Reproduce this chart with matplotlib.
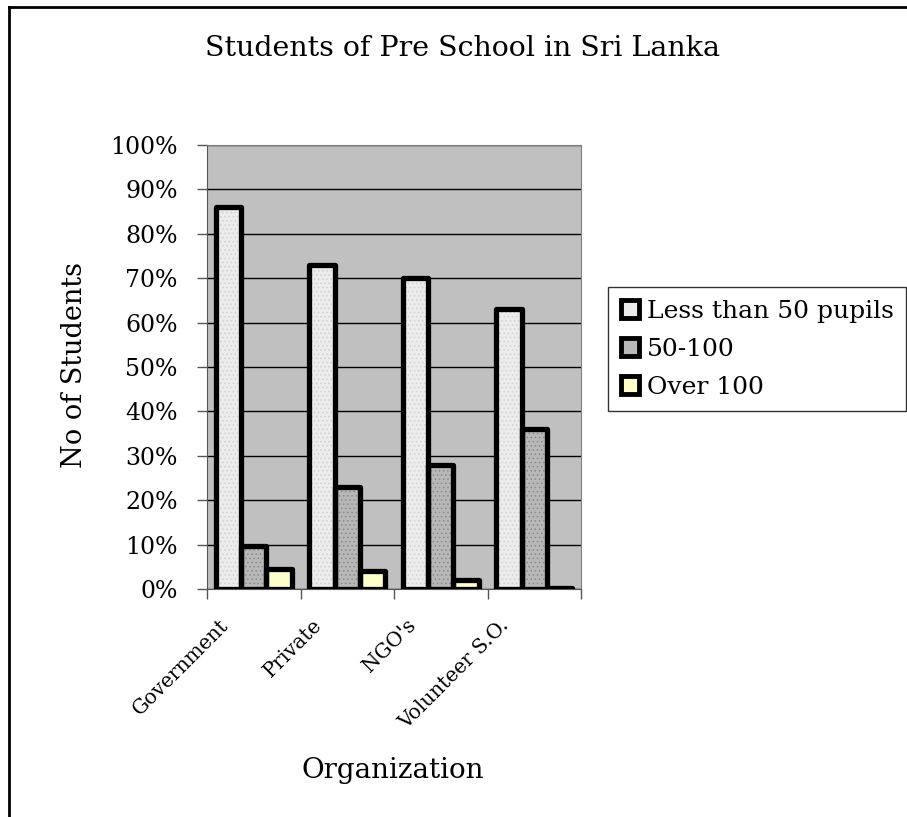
import numpy as np
import matplotlib
matplotlib.use("Agg")
import matplotlib.pyplot as plt
import matplotlib.transforms as mtransforms
from matplotlib.patches import Patch
from matplotlib.lines import Line2D

plt.rcParams['font.family'] = ['DejaVu Serif']
plt.rcParams['hatch.linewidth'] = 0.6

organizations = ["Government", "Private", "NGO's", "Volunteer S.O."]
series_names = ["Less than 50 pupils", "50-100", "Over 100"]
less_than_50 = [86, 73, 70, 63]
from_50_to_100 = [9.6, 23, 28, 36]
over_100 = [4.5, 4, 2, 0.3]
y_ticks = [0, 10, 20, 30, 40, 50, 60, 70, 80, 90, 100]

faces = ["#ececec", "#b8b8b8", "#ffffcc"]
hatches = ["....", "....", None]
hatch_cols = ["#d0d0d0", "#8a8a8a", "#ffffcc"]

fig = plt.figure(figsize=(9.07, 8.17), dpi=100)
ax = fig.add_axes([207/907, 1-589/817, 374/907, 444/817])
ax.set_facecolor("#c0c0c0")

x = np.arange(len(organizations))
w = 0.27
for i, vals in enumerate([less_than_50, from_50_to_100, over_100]):
    pos = x + (i-1)*w
    ax.bar(pos, vals, w, color=faces[i], hatch=hatches[i],
           edgecolor=hatch_cols[i], linewidth=0, zorder=3)
    ax.bar(pos, vals, w, fill=False, edgecolor="black", linewidth=3.8,
           joinstyle="round", zorder=4)

ax.set_ylim(0, 100)
ax.set_xlim(-0.5, 3.5)
ax.set_yticks(y_ticks)
ax.set_yticklabels([f"{v}%" for v in y_ticks], fontsize=17)
ax.yaxis.grid(True, color="black", linewidth=1)
ax.set_axisbelow(True)
ax.tick_params(axis="y", length=7.2, width=1, color="#555555", pad=14)

ax.set_xticks(np.arange(-0.5, 4, 1))
ax.set_xticklabels([])
ax.tick_params(axis="x", which="major", length=7, width=1, color="#555555")
ax.set_xticks(x, minor=True)
ax.set_xticklabels(organizations, minor=True, rotation=45, ha="right",
                   va="top", rotation_mode="anchor", fontsize=14.5)
ax.tick_params(axis="x", which="minor", length=0, pad=19)
offset = mtransforms.ScaledTranslation(-0.35, 0, fig.dpi_scale_trans)
for lab in ax.get_xticklabels(minor=True):
    lab.set_transform(lab.get_transform() + offset)

for s in ["top", "right"]:
    ax.spines[s].set_color("#808080")
ax.spines["left"].set_color("#555555")
ax.spines["bottom"].set_color("#555555")

fig.text(462/907, 1-48/817, "Students of Pre School in Sri Lanka",
         ha="center", va="center", fontsize=20.5)
fig.text(75/907, 1-365/817, "No of Students", rotation=90,
         ha="center", va="center", fontsize=19.5)
fig.text(393/907, 1-770/817, "Organization", ha="center", va="center",
         fontsize=20)

handles = [Patch(facecolor=faces[i], edgecolor="black", linewidth=3.5,
                 hatch=None) for i in range(3)]
leg = fig.legend(handles, series_names, loc="upper left",
                 bbox_to_anchor=(608/907, 1-287/817), fontsize=18,
                 frameon=True, fancybox=False, handlelength=0.75,
                 handleheight=0.75, handletextpad=0.3, labelspacing=0.6,
                 borderpad=0.5, borderaxespad=0)
leg.get_frame().set_edgecolor("black")
leg.get_frame().set_linewidth(1)

fig.add_artist(Line2D([9/907, 1.0], [1-7/817, 1-7/817], color="black",
                      linewidth=2, transform=fig.transFigure))
fig.add_artist(Line2D([9/907, 9/907], [0, 1-7/817], color="black",
                      linewidth=2, transform=fig.transFigure))

fig.savefig("out.png", dpi=100)
